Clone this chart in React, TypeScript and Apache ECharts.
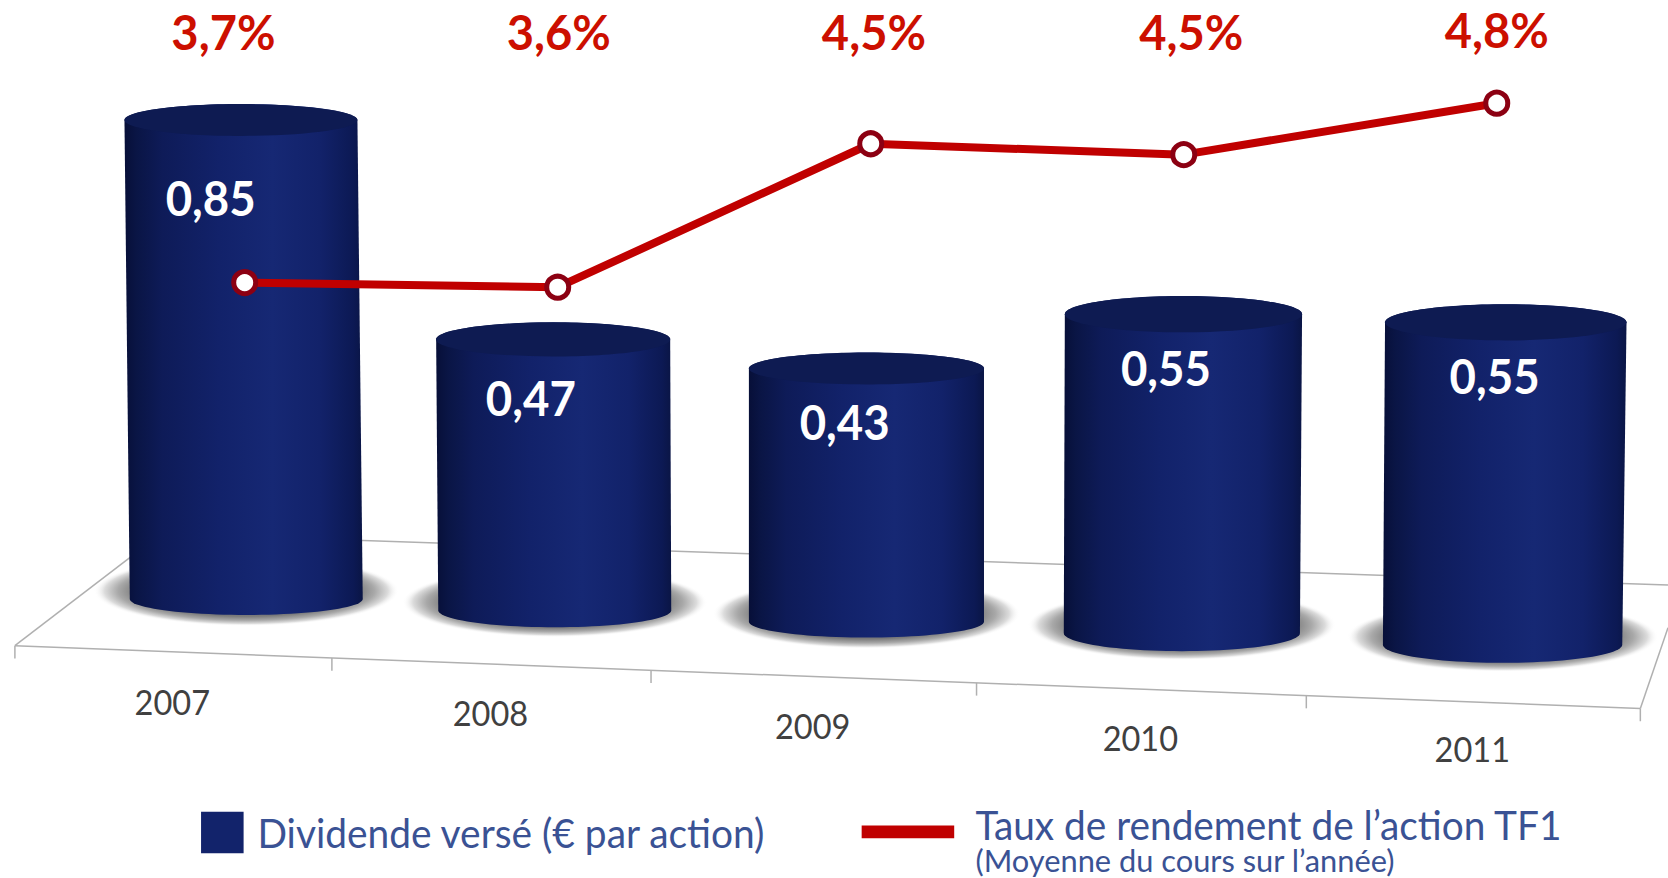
import React, { useEffect, useRef } from "react";
import * as echarts from "echarts";

// ---- data ----
const categories = ["2007", "2008", "2009", "2010", "2011"];
const dividends = [0.85, 0.47, 0.43, 0.55, 0.55];
const dividendLabels = ["0,85", "0,47", "0,43", "0,55", "0,55"];
const yieldValues = [3.65, 3.62, 4.54, 4.47, 4.8];
const yieldLabels = ["3,7%", "3,6%", "4,5%", "4,5%", "4,8%"];

// ---- layout of the fake-3D view (in units of the 1568 wide picture) ----
const S = 1668 / 1568;
const SLOPE = 0.0364;
const PERSPECTIVE = [0.972, 0.994, 1.015, 1, 1.011];
const BASE_SHIFT = [2.5, -3.5, -6.5, -6, -0.5];
const LEAN = [-5, -1.5, 0, 1.5, 3];
const TOP_WIDTH = [219, 220, 221, 223, 227];
const BOTTOM_WIDTH = [219, 219, 221, 222, 225];
const RY = [15, 16, 15, 17, 17];
const VALUE_DX = [-28.5, -21, -20.5, -16.5, -10.5];
const VALUE_DY = [73, 55, 49.5, 50, 50];
const YEAR_DX = [-69.5, -60.5, -50.5, -39, -28.5];
const YEAR_DY = [96, 96, 98, 98, 98];
const PCT_DX = [-20, 1, 3, 7, 0];
const PCT_Y = [29.5, 29.5, 29.5, 29.5, 27.5];
const FLOOR_TICKS = [14, 312, 612, 918, 1228, 1542];

const FONT = "Lato, 'Open Sans', sans-serif";

const frontY = (x: number) => 607 + ((666 - 607) / (1542 - 14)) * (x - 14);
const backY = (x: number) => 508 + 0.0342 * (x - 340);

function renderBar(params: any, api: any) {
  const i = api.value(0);
  const v = api.value(1);
  const base = api.coord([i, 0]);
  const top = api.coord([i, v]);
  const cxB = base[0] + BASE_SHIFT[i] * S;
  const cxT = cxB + LEAN[i] * S;
  const yB = base[1] + SLOPE * (cxB - 229 * S);
  const yT = yB - (base[1] - top[1]) * PERSPECTIVE[i];
  const rxT = (TOP_WIDTH[i] / 2) * S;
  const rxB = (BOTTOM_WIDTH[i] / 2) * S;
  const ry = RY[i] * S;

  const pts: number[][] = [];
  for (let k = 0; k <= 48; k++) {
    const a = (Math.PI * k) / 48;
    pts.push([cxB + rxB * Math.cos(a), yB + ry * Math.sin(a)]);
  }
  for (let k = 0; k <= 48; k++) {
    const a = Math.PI + (Math.PI * k) / 48;
    pts.push([cxT + rxT * Math.cos(a), yT + ry * Math.sin(a)]);
  }
  return {
    type: "group",
    children: [
      {
        type: "ellipse",
        shape: { cx: cxB, cy: yB - 8, rx: rxB + 36, ry: 35 },
        style: {
          fill: new echarts.graphic.RadialGradient(0.5, 0.5, 0.5, [
            { offset: 0, color: "#767676" },
            { offset: 0.72, color: "#7a7a7a" },
            { offset: 0.84, color: "#a8a8a8" },
            { offset: 0.93, color: "#dcdcdc" },
            { offset: 1, color: "rgba(255,255,255,0)" },
          ]),
        },
      },
      {
        type: "polygon",
        shape: { points: pts },
        style: {
          fill: new echarts.graphic.LinearGradient(0, 0, 1, 0, [
            { offset: 0, color: "#070f38" },
            { offset: 0.05, color: "#0a1545" },
            { offset: 0.16, color: "#0e1b58" },
            { offset: 0.4, color: "#12226a" },
            { offset: 0.62, color: "#162874" },
            { offset: 0.82, color: "#12226a" },
            { offset: 0.96, color: "#0c1954" },
            { offset: 1, color: "#0a1545" },
          ]),
        },
      },
      {
        type: "ellipse",
        shape: { cx: cxT, cy: yT, rx: rxT, ry },
        style: { fill: "#0e1b52" },
      },
      {
        type: "text",
        x: cxT + VALUE_DX[i] * S,
        y: yT + VALUE_DY[i] * S,
        scaleX: 0.95,
        style: {
          text: dividendLabels[i],
          x: 0,
          y: 0,
          align: "center",
          verticalAlign: "middle",
          fill: "#ffffff",
          fontFamily: FONT,
          fontWeight: "bold",
          fontSize: 48,
        },
      },
      {
        type: "text",
        x: cxB + YEAR_DX[i] * S,
        y: yB + YEAR_DY[i] * S,
        scaleX: 0.93,
        style: {
          text: categories[i],
          x: 0,
          y: 0,
          align: "center",
          verticalAlign: "middle",
          fill: "#404040",
          fontFamily: FONT,
          fontSize: 35,
        },
      },
    ],
  };
}

function renderPct(params: any, api: any) {
  const i = api.value(0);
  const p = api.coord([i, api.value(1)]);
  return {
    type: "text",
    x: p[0] + PCT_DX[i] * S,
    y: PCT_Y[i] * S,
    scaleX: 0.98,
    style: {
      text: yieldLabels[i],
      x: 0,
      y: 0,
      align: "center",
      verticalAlign: "middle",
      fill: "#cc0f00",
      fontFamily: FONT,
      fontWeight: "bold",
      fontSize: 48,
      lineHeight: 46,
    },
  };
}

function floorGraphics() {
  const line = (x1: number, y1: number, x2: number, y2: number) => ({
    type: "line",
    z: 0,
    shape: { x1: x1 * S, y1: y1 * S, x2: x2 * S, y2: y2 * S },
    style: { stroke: "#b0b0b0", lineWidth: 1.5 },
  });
  const out: any[] = [
    line(14, frontY(14), 1542, frontY(1542)),
    line(14, frontY(14), 130, 518),
    line(1542, frontY(1542), 1568, 590),
    line(300, backY(300), 1568, backY(1568)),
  ];
  for (const x of FLOOR_TICKS) out.push(line(x, frontY(x), x, frontY(x) + 12));
  return out;
}

function legendGraphics() {
  const text = (t: string, x: number, y: number, size: number, sx: number) => ({
    type: "text",
    z: 5,
    x: x * S,
    y: y * S,
    scaleX: sx,
    style: {
      text: t,
      x: 0,
      y: 0,
      fill: "#3a5294",
      fontFamily: FONT,
      fontSize: size,
      lineHeight: size * 0.9,
      verticalAlign: "middle",
    },
  });
  return [
    {
      type: "rect",
      z: 5,
      shape: { x: 189 * S, y: 763 * S, width: 40 * S, height: 39 * S },
      style: { fill: "#12236b" },
    },
    text("Dividende versé (€ par action)", 242, 782, 40.5, 0.96),
    {
      type: "rect",
      z: 5,
      shape: { x: 810 * S, y: 776 * S, width: 87 * S, height: 12 * S },
      style: { fill: "#c00000" },
    },
    text("Taux de rendement de l’action TF1", 917, 775, 40.5, 0.958),
    text("(Moyenne du cours sur l’année)", 917, 809, 30.8, 1),
  ];
}

export default function App() {
  const ref = useRef<HTMLDivElement>(null);
  useEffect(() => {
    const chart = echarts.init(ref.current!, null, { renderer: "svg" });
    chart.setOption({
      animation: false,
      backgroundColor: "#ffffff",
      graphic: { elements: [...floorGraphics(), ...legendGraphics()] },
      grid: [
        { left: 81 * S, top: 18 * S, width: 1480 * S, height: 545 * S },
        { left: 82.9 * S, top: 67.7 * S, width: 1471.25 * S, height: 293.2 * S },
      ],
      xAxis: [
        { type: "category", gridIndex: 0, data: categories, show: false },
        { type: "category", gridIndex: 1, data: categories, show: false },
      ],
      yAxis: [
        { type: "value", gridIndex: 0, min: 0, max: 1, show: false },
        { type: "value", gridIndex: 1, min: 3, max: 5, show: false },
      ],
      series: [
        {
          type: "custom",
          name: "Dividende versé (€ par action)",
          xAxisIndex: 0,
          yAxisIndex: 0,
          z: 2,
          clip: false,
          renderItem: renderBar,
          encode: { x: 0, y: 1 },
          data: dividends.map((v, i) => [i, v]),
        },
        {
          type: "line",
          name: "Taux de rendement de l’action TF1",
          xAxisIndex: 1,
          yAxisIndex: 1,
          z: 4,
          data: yieldValues,
          symbol: "circle",
          symbolSize: 22,
          lineStyle: { color: "#c00000", width: 8 },
          itemStyle: { color: "#ffffff", borderColor: "#8c0012", borderWidth: 5 },
        },
        {
          type: "custom",
          xAxisIndex: 1,
          yAxisIndex: 1,
          z: 5,
          clip: false,
          renderItem: renderPct,
          encode: { x: 0, y: 1 },
          data: yieldValues.map((v, i) => [i, v]),
        },
      ],
    });
    return () => chart.dispose();
  }, []);
  return (
    <div
      ref={ref}
      style={{ position: "fixed", left: 0, top: 0, width: 1668, height: 878 }}
    />
  );
}
